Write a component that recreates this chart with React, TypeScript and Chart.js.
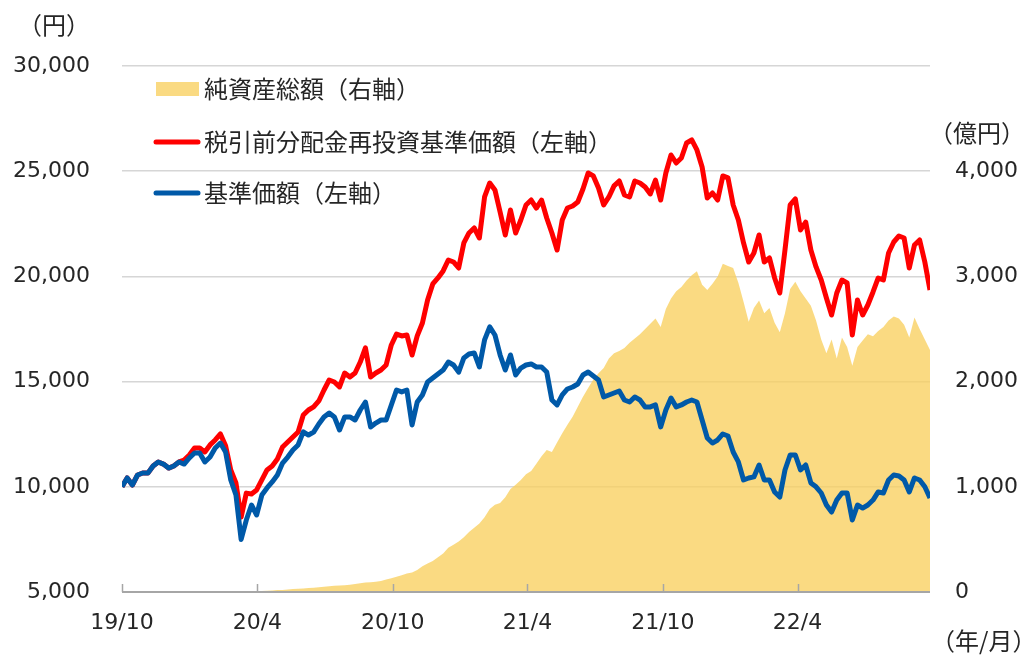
import React, { useEffect, useRef } from 'react';
import { Chart, registerables } from 'chart.js';

Chart.register(...registerables);

// ---- data ----
const START_DATE = '2019-10-01';
const STEP_DAYS = 7;

const TICK_DATES = ['2019-10-01', '2020-04-01', '2020-10-01', '2021-04-01', '2021-10-01', '2022-04-01'];
const TICK_LABELS = ['19/10', '20/4', '20/10', '21/4', '21/10', '22/4'];

const SERIES_NAMES = ['純資産総額（右軸）', '税引前分配金再投資基準価額（左軸）', '基準価額（左軸）'];

// 基準価額 (yen), weekly
const NAV = [
  10000, 10420, 10085, 10560, 10655, 10650, 10990, 11180, 11080, 10890,
  10990, 11180, 11080, 11370, 11610, 11610, 11180, 11415, 11845, 12080,
  11650, 10325, 9610, 7500, 8420, 9135, 8660, 9610, 9945, 10230,
  10560, 11130, 11415, 11750, 11990, 12610, 12460, 12600, 12985, 13320,
  13510, 13320, 12700, 13320, 13320, 13175, 13650, 14030, 12840, 13030,
  13175, 13175, 13890, 14600, 14510, 14600, 12940, 14030, 14365, 14980,
  15170, 15360, 15550, 15930, 15790, 15450, 16125, 16310, 16360, 15695,
  16980, 17600, 17215, 16265, 15550, 16265, 15315, 15645, 15790, 15840,
  15695, 15695, 15455, 14125, 13890, 14365, 14650, 14745, 14885, 15315,
  15455, 15265, 15075, 14270, 14365, 14460, 14555, 14125, 14030, 14270,
  14125, 13795, 13795, 13890, 12845, 13650, 14220, 13795, 13890, 14030,
  14125, 14030, 13175, 12320, 12080, 12225, 12510, 12415, 11655, 11180,
  10325, 10420, 10470, 11035, 10325, 10325, 9755, 9515, 10800, 11510,
  11510, 10800, 11035, 10185, 10000, 9705, 9135, 8800, 9370, 9705,
  9705, 8420, 9135, 8990, 9135, 9370, 9755, 9705, 10325, 10560,
  10515, 10325, 9755, 10420, 10325, 10000, 9470,
];

// 税引前分配金再投資基準価額 (yen), weekly
const NAV_REINVESTED = [
  10000, 10420, 10085, 10560, 10655, 10650, 10990, 11180, 11080, 10890,
  10990, 11180, 11270, 11510, 11845, 11845, 11655, 11990, 12225, 12510,
  11950, 10800, 10180, 8560, 9700, 9660, 9850, 10325, 10800, 10990,
  11320, 11890, 12130, 12370, 12605, 13410, 13650, 13795, 14080, 14600,
  15075, 14980, 14745, 15410, 15220, 15410, 15930, 16600, 15220, 15410,
  15550, 15790, 16740, 17260, 17170, 17215, 16265, 17170, 17785, 18880,
  19640, 19925, 20260, 20780, 20685, 20400, 21590, 22065, 22300, 21825,
  23775, 24440, 24110, 23060, 21970, 23155, 22060, 22680, 23395, 23630,
  23250, 23630, 22775, 22065, 21255, 22680, 23250, 23345, 23535, 24155,
  24915, 24775, 24205, 23395, 23775, 24300, 24535, 23870, 23775, 24535,
  24440, 24250, 23920, 24580, 23630, 24915, 25770, 25390, 25625, 26340,
  26485, 26010, 25200, 23725, 23965, 23630, 24775, 24680, 23395, 22680,
  21590, 20685, 21110, 21970, 20685, 20875, 19925, 19210, 21255, 23395,
  23680, 22205, 22585, 21255, 20450, 19830, 18975, 18165, 19210, 19830,
  19685, 17215, 18880, 18165, 18640, 19260, 19925, 19830, 21110, 21635,
  21920, 21825, 20400, 21490, 21730, 20685, 19355,
];

// 純資産総額 (億円), weekly
const NET_ASSETS = [
  null, null, null, null, null, null, null, null, null, null,
  null, null, null, null, null, null, null, 3, 4, 5,
  5, 5, 5, 4, 5, 6, 8, 10, 12, 15,
  18, 20, 24, 28, 30, 34, 38, 40, 45, 50,
  55, 60, 62, 65, 70, 75, 82, 90, 92, 98,
  105, 118, 130, 145, 160, 175, 185, 210, 245, 270,
  295, 330, 365, 420, 450, 480, 520, 570, 610, 650,
  710, 790, 830, 845, 900, 980, 1020, 1065, 1120, 1150,
  1220, 1290, 1350, 1330, 1420, 1510, 1590, 1665, 1760, 1855,
  1940, 2020, 2080, 2130, 2220, 2270, 2290, 2320, 2370, 2410,
  2450, 2500, 2550, 2600, 2520, 2690, 2790, 2860, 2900, 2960,
  3010, 3050, 2920, 2870, 2930, 3000, 3120, 3100, 3080, 2940,
  2760, 2570, 2700, 2770, 2650, 2700, 2560, 2470, 2650, 2880,
  2950, 2860, 2790, 2720, 2580, 2400, 2270, 2400, 2220, 2420,
  2330, 2150, 2330, 2390, 2450, 2430, 2480, 2520, 2580, 2620,
  2600, 2540, 2420, 2610, 2500, 2400, 2300,
];

// ---- helpers ----
const DAY_MS = 86400000;
const startMs = Date.parse(START_DATE + 'T00:00:00Z');
const dayOf = (d: string) => Math.round((Date.parse(d + 'T00:00:00Z') - startMs) / DAY_MS);
const toPoints = (arr: (number | null)[]) => arr.map((v, i) => ({ x: i * STEP_DAYS, y: v }));
const LAST_DAY = (NAV.length - 1) * STEP_DAYS;

const TEXT_COLOR = '#262626';
const NUM_FONT = 'DejaVu Sans';
const JP_FONT = "'Noto Sans CJK JP', sans-serif";
const AREA_COLOR = 'rgba(249, 208, 95, 0.78)';
const RED = '#FF0000';
const BLUE = '#0059A8';

const overlayPlugin = {
  id: 'overlay',
  afterDatasetsDraw(chart: any) {
    const { ctx, chartArea } = chart;
    const xs = chart.scales.x;
    ctx.save();
    ctx.strokeStyle = '#a6a6a6';
    ctx.lineWidth = 2;
    ctx.beginPath();
    ctx.moveTo(chartArea.left, chartArea.bottom);
    ctx.lineTo(chartArea.right, chartArea.bottom);
    ctx.stroke();
    ctx.lineWidth = 1.5;
    xs.ticks.forEach((t: any) => {
      const px = Math.round(xs.getPixelForValue(t.value)) + 0.5;
      ctx.beginPath();
      ctx.moveTo(px, chartArea.bottom);
      ctx.lineTo(px, chartArea.bottom - 8);
      ctx.stroke();
    });
    ctx.restore();
  },
  afterDraw(chart: any) {
    const { ctx } = chart;
    ctx.save();
    ctx.fillStyle = TEXT_COLOR;
    ctx.font = `24px ${JP_FONT}`;
    ctx.textBaseline = 'middle';
    ctx.textAlign = 'left';
    ctx.fillText('（円）', 18, 25);
    ctx.fillText('（億円）', 929, 133);
    ctx.fillText('（年/月）', 931, 641);

    // legend
    const legendX = 204;
    const rows = [89, 142, 193];
    ctx.fillStyle = AREA_COLOR;
    ctx.fillRect(156, rows[0] - 7, 43, 14);
    ctx.lineCap = 'round';
    ctx.lineWidth = 5;
    ctx.strokeStyle = RED;
    ctx.beginPath();
    ctx.moveTo(156, rows[1]);
    ctx.lineTo(198, rows[1]);
    ctx.stroke();
    ctx.strokeStyle = BLUE;
    ctx.beginPath();
    ctx.moveTo(156, rows[2]);
    ctx.lineTo(198, rows[2]);
    ctx.stroke();
    ctx.fillStyle = TEXT_COLOR;
    SERIES_NAMES.forEach((name, i) => ctx.fillText(name, legendX, rows[i]));
    ctx.restore();
  },
};

export default function App() {
  const ref = useRef<HTMLCanvasElement>(null);
  useEffect(() => {
    const canvas = ref.current;
    if (!canvas) return;
    const chart = new Chart(canvas, {
      type: 'line',
      data: {
        datasets: [
          {
            label: SERIES_NAMES[2],
            data: toPoints(NAV),
            borderColor: BLUE,
            borderWidth: 5,
            pointRadius: 0,
            tension: 0,
            fill: false,
            yAxisID: 'y',
            order: 0,
            borderJoinStyle: 'round',
          },
          {
            label: SERIES_NAMES[1],
            data: toPoints(NAV_REINVESTED),
            borderColor: RED,
            borderWidth: 5,
            pointRadius: 0,
            tension: 0,
            fill: false,
            yAxisID: 'y',
            order: 1,
            borderJoinStyle: 'round',
          },
          {
            label: SERIES_NAMES[0],
            data: toPoints(NET_ASSETS),
            borderWidth: 0,
            borderColor: 'rgba(0,0,0,0)',
            backgroundColor: AREA_COLOR,
            pointRadius: 0,
            tension: 0,
            fill: 'origin',
            yAxisID: 'y1',
            order: 2,
          },
        ] as any,
      },
      options: {
        responsive: false,
        animation: false,
        events: [],
        layout: { padding: { top: 66, left: 0, right: 0, bottom: 0 } },
        plugins: {
          legend: { display: false },
          tooltip: { enabled: false },
        },
        scales: {
          x: {
            type: 'linear',
            min: 0,
            max: LAST_DAY,
            afterBuildTicks: (s: any) => {
              s.ticks = TICK_DATES.map((d) => ({ value: dayOf(d) }));
            },
            ticks: {
              autoSkip: false,
              maxRotation: 0,
              padding: 18,
              color: TEXT_COLOR,
              font: { family: NUM_FONT, size: 22 },
              callback: (_v: any, i: number) => TICK_LABELS[i],
            },
            grid: { display: false, drawTicks: false },
            border: { display: false },
            afterFit: (s: any) => {
              s.height = 64;
            },
          },
          y: {
            position: 'left',
            min: 5000,
            max: 30000,
            ticks: {
              stepSize: 5000,
              padding: 32,
              color: TEXT_COLOR,
              font: { family: NUM_FONT, size: 22 },
              callback: (v: any) => Number(v).toLocaleString('en-US'),
            },
            grid: { color: '#d6d6d6', lineWidth: 1.5, drawTicks: false },
            border: { display: false },
            afterFit: (s: any) => {
              s.width = 122;
            },
          },
          y1: {
            position: 'right',
            min: 0,
            max: 5000,
            ticks: {
              stepSize: 1000,
              padding: 25,
              color: TEXT_COLOR,
              font: { family: NUM_FONT, size: 22 },
              callback: (v: any) => (Number(v) >= 5000 ? '' : Number(v).toLocaleString('en-US')),
            },
            grid: { display: false, drawTicks: false },
            border: { display: false },
            afterFit: (s: any) => {
              s.width = 97;
            },
          },
        } as any,
      },
      plugins: [overlayPlugin],
    });
    return () => chart.destroy();
  }, []);

  return (
    <div style={{ position: 'absolute', left: 0, top: 0, width: 1027, height: 656, background: '#fff' }}>
      <canvas ref={ref} width={1027} height={656} style={{ display: 'block' }} />
    </div>
  );
}
